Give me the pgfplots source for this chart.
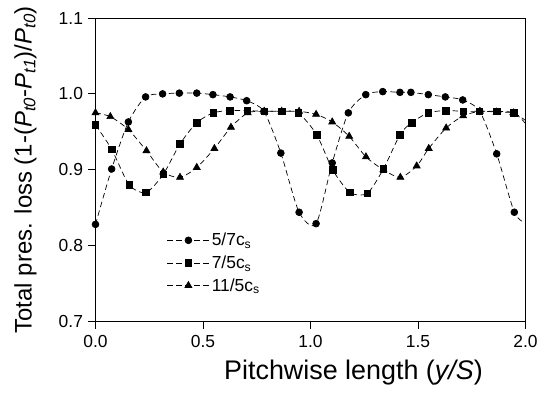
\documentclass[border=0pt]{standalone}
\usepackage{pgfplots}
\pgfplotsset{compat=1.18}
\usepackage{fontspec}
\setmainfont{Liberation Sans}
\begin{document}
\begin{tikzpicture}
\begin{axis}[
  at={(0,0)}, anchor=south west,
  scale only axis, width=430bp, height=303.5bp,
  xmin=0, xmax=2, ymin=0.7, ymax=1.1,
  xtick={0,0.5,1,1.5,2}, ytick={0.7,0.8,0.9,1.0,1.1},
  tick align=outside, tick pos=left, major tick length=7bp,
  axis line style={line width=0.9bp},
  tick style={line width=0.8bp, black},
  ticklabel style={font=\fontsize{17.5}{19}\selectfont},
  xticklabel style={yshift=-3.5bp},
  yticklabel style={xshift=-2bp},
  /pgf/number format/.cd, fixed, fixed zerofill, precision=1, assume math mode=true,
  /pgfplots/.cd,
  xlabel={Pitchwise length (\textit{y/S})},
  ylabel={Total pres. loss (1-(\textit{P}\textsubscript{\textit{t0}}-\textit{P}\textsubscript{\textit{t1}})/\textit{P}\textsubscript{\textit{t0}})},
  ylabel style={font=\fontsize{24}{28}\selectfont, at={(axis description cs:-0.163,0.5)}, anchor=center},
  xlabel style={font=\fontsize{27}{30}\selectfont, at={(axis description cs:0.6,-0.19)}, anchor=base},
  legend style={at={(0.166,0.298)}, anchor=north west, draw=none, fill=none,
    font=\fontsize{17.5}{20}\selectfont, row sep=4.5bp, inner sep=0pt,
    nodes={xshift=4bp}},
  legend cell align=left,
  legend image code/.code={\draw[#1, mark=none] (0bp,0bp) -- (42bp,0bp);
    \draw[#1, only marks, mark indices={1}] plot coordinates {(21bp,0bp)};},
  every axis plot/.append style={black, line width=0.7bp, dash pattern=on 5.5bp off 3.5bp, smooth, tension=0.45},
]
\addplot[black, mark=*, mark size=3.4bp, mark options={solid, fill=black}, mark indices={1,...,26}] coordinates {
(0.000,0.828) (0.075,0.901) (0.153,0.963) (0.233,0.996) (0.312,1.000) (0.390,1.001)
(0.471,1.001) (0.546,0.999) (0.626,0.996) (0.703,0.991) (0.783,0.977) (0.862,0.922)
(0.947,0.844) (1.026,0.829) (1.101,0.909) (1.176,0.975) (1.257,0.999) (1.336,1.003)
(1.416,1.002) (1.467,1.002) (1.548,0.999) (1.627,0.996) (1.708,0.992) (1.787,0.977)
(1.866,0.921) (1.948,0.844) (2.000,0.830)
};
\addlegendentry{5/7c\textsubscript{s}}
\addplot[black, mark=square*, mark size=3.3bp, mark options={solid, fill=black}, mark indices={1,...,26}] coordinates {
(0.000,0.959) (0.075,0.927) (0.157,0.880) (0.235,0.870) (0.315,0.894) (0.393,0.934)
(0.471,0.962) (0.548,0.975) (0.626,0.978) (0.706,0.978) (0.785,0.977) (0.866,0.977)
(0.943,0.975) (1.029,0.946) (1.103,0.900) (1.184,0.870) (1.264,0.869) (1.339,0.901)
(1.416,0.946) (1.470,0.962) (1.548,0.975) (1.629,0.978) (1.711,0.977) (1.785,0.977)
(1.866,0.977) (1.947,0.975) (2.000,0.961)
};
\addlegendentry{7/5c\textsubscript{s}}
\addplot[black, mark=triangle*, mark size=4bp, mark options={solid, fill=black}, mark indices={1,...,26}] coordinates {
(0.000,0.975) (0.069,0.970) (0.153,0.953) (0.237,0.925) (0.315,0.897) (0.393,0.890)
(0.471,0.903) (0.553,0.928) (0.630,0.956) (0.708,0.975) (0.785,0.977) (0.866,0.977)
(0.947,0.977) (1.026,0.973) (1.101,0.963) (1.180,0.944) (1.258,0.917) (1.339,0.900)
(1.418,0.890) (1.494,0.905) (1.550,0.928) (1.631,0.955) (1.710,0.971) (1.788,0.977)
(1.866,0.976) (1.943,0.975) (2.000,0.965)
};
\addlegendentry{11/5c\textsubscript{s}}
\end{axis}
\pgfresetboundingbox
\path (-95.5bp,-71.5bp) rectangle (451.5bp,321.5bp);
\end{tikzpicture}
\end{document}
